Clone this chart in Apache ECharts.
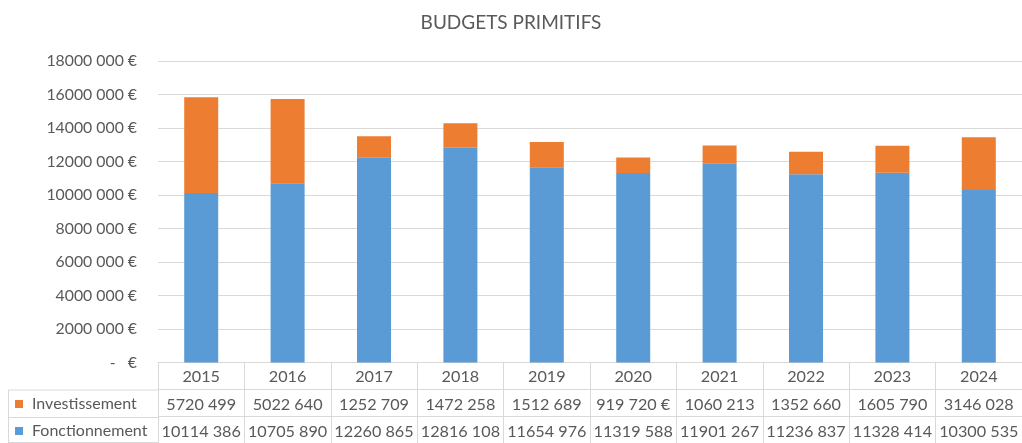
<!DOCTYPE html>
<html><head><meta charset="utf-8">
<script src="https://cdn.jsdelivr.net/npm/echarts@6/dist/echarts.min.js"></script>
<style>html,body{margin:0;padding:0;background:#fff}#c{width:1022px;height:443px}</style>
</head><body><div id="c"></div>
<script>
const years = ['2015','2016','2017','2018','2019','2020','2021','2022','2023','2024'];
const investissement = [5720499,5022640,1252709,1472258,1512689,919720,1060213,1352660,1605790,3146028];
const fonctionnement = [10114386,10705890,12260865,12816108,11654976,11319588,11901267,11236837,11328414,10300535];
const investSuffix = ['','','','','',' €','','','',''];
const yTicks = {min:0, max:18000000, interval:2000000};

const FONT = 'Lato';
const TXT = '#595959';
const LINE = '#d9d9d9';
function fmt(n){
  const th = Math.floor(n/1000), r = n%1000;
  return th + ' ' + String(r).padStart(3,'0');
}
const chart = echarts.init(document.getElementById('c'));
const tableCommon = {
  type:'category', data:years, gridIndex:0, position:'bottom',
  axisLine:{show:false}, axisTick:{show:false}, splitLine:{show:false}
};
const lbl = {margin:6, interval:0, hideOverlap:false, fontFamily:FONT, fontSize:16.2, color:TXT};
chart.setOption({
  animation:false,
  textStyle:{fontFamily:FONT},
  title:{text:'BUDGETS PRIMITIFS', left:'center', top:8,
    textStyle:{fontFamily:FONT, fontSize:19, fontWeight:'normal', color:TXT}},
  legend:[
    {data:['Investissement'], orient:'vertical', left:15, top:396, padding:0,
     itemWidth:8, itemHeight:8, icon:'rect',
     textStyle:{fontFamily:FONT, fontSize:16, color:TXT, padding:[0,0,0,4]}},
    {data:['Fonctionnement'], orient:'vertical', left:15, top:423, padding:0,
     itemWidth:8, itemHeight:8, icon:'rect',
     textStyle:{fontFamily:FONT, fontSize:16, color:TXT, padding:[0,0,0,4]}}
  ],
  grid:[
    {left:158, width:870, top:61, height:301.5},
    {left:158, width:870, top:362.5, height:81}
  ],
  xAxis:[
    {type:'category', data:years, gridIndex:0, position:'bottom',
     axisLine:{lineStyle:{color:LINE}}, axisTick:{show:false},
     axisLabel:Object.assign({}, lbl)},
    Object.assign({}, tableCommon, {offset:28,
     axisLabel:Object.assign({}, lbl, {formatter:(v,i)=>fmt(investissement[i]) + investSuffix[i]})}),
    Object.assign({}, tableCommon, {offset:55,
     axisLabel:Object.assign({}, lbl, {formatter:(v,i)=>fmt(fonctionnement[i])})}),
    {type:'category', data:years, gridIndex:1, axisLine:{show:false}, axisTick:{show:false},
     axisLabel:{show:false}, splitLine:{show:true, interval:0, lineStyle:{color:LINE}}}
  ],
  yAxis:[
    {type:'value', gridIndex:0, min:yTicks.min, max:yTicks.max, interval:yTicks.interval,
     axisLine:{show:false}, axisTick:{show:false},
     splitLine:{lineStyle:{color:LINE}},
     axisLabel:{margin:21, fontFamily:FONT, fontSize:15.8, color:TXT,
       formatter:v=> v===0 ? '-   €' : fmt(v)+' €'}},
    {type:'category', gridIndex:1, data:['a','b','c'], inverse:true,
     axisLine:{show:false}, axisTick:{show:false}, axisLabel:{show:false},
     splitLine:{show:true, interval:0, lineStyle:{color:LINE}}}
  ],
  graphic:[
    {type:'line', shape:{x1:8,y1:390,x2:158,y2:390}, style:{stroke:LINE,lineWidth:1}},
    {type:'line', shape:{x1:8,y1:417.5,x2:158,y2:417.5}, style:{stroke:LINE,lineWidth:1}},
    {type:'line', shape:{x1:8,y1:442.5,x2:158,y2:442.5}, style:{stroke:LINE,lineWidth:1}},
    {type:'line', shape:{x1:8.5,y1:390,x2:8.5,y2:443}, style:{stroke:LINE,lineWidth:1}}
  ],
  series:[
    {name:'Fonctionnement', type:'bar', stack:'t', data:fonctionnement, barWidth:34,
     itemStyle:{color:'#5B9BD5'}},
    {name:'Investissement', type:'bar', stack:'t', data:investissement, barWidth:34,
     itemStyle:{color:'#ED7D31'}}
  ]
});
</script></body></html>
